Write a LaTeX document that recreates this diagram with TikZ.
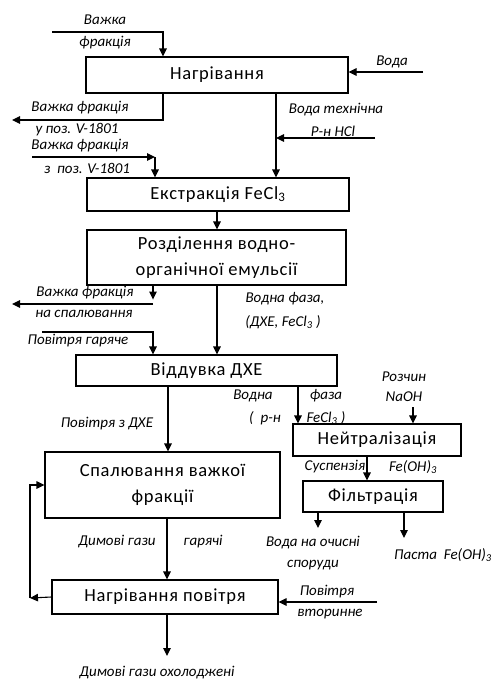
\documentclass[tikz,border=0pt]{standalone}
\usepackage{fontspec}
\setmainfont{Carlito}
\newfontfamily\blokfont[LetterSpace=4]{Carlito}
\usetikzlibrary{arrows.meta, positioning, calc}

\begin{document}
\begin{tikzpicture}[x=1pt, y=-1pt, >={Stealth[length=8pt,width=7.5pt,inset=0pt]}, line width=1.1pt,
    blok/.style={draw, inner sep=0pt, align=center, font=\blokfont\fontsize{18.5}{26}\selectfont},
    lab/.style={font=\itshape\fontsize{15}{16}\selectfont, inner sep=0pt}]
  \useasboundingbox (0,0) rectangle (500,680);

  \node[blok, minimum width=262pt, minimum height=36pt] (heat) at (217,75) {Нагрівання};
  \node[blok, minimum width=262pt, minimum height=33pt] (ext) at (218,194.5) {Екстракція FeCl\textsubscript{3}};
  \node[blok, minimum width=259pt, minimum height=55pt] (sep) at (216.5,257.5) {Розділення водно-\\органічної емульсії};
  \node[blok, minimum width=261pt, minimum height=31pt] (strip) at (206.5,370.5) {Віддувка ДХЕ};
  \node[blok, minimum width=235pt, minimum height=66pt] (burn) at (162.5,485) {Спалювання важкої\\фракції};
  \node[blok, minimum width=168pt, minimum height=32pt] (neut) at (377,440) {Нейтралізація};
  \node[blok, minimum width=140pt, minimum height=31pt] (filt) at (373,496.5) {Фільтрація};
  \node[blok, minimum width=226pt, minimum height=34pt] (airh) at (165,597) {Нагрівання повітря};

  \coordinate (vhin) at (52,32);
  \coordinate (voda) at (423,72);
  \coordinate (vhout) at (12,120);
  \coordinate (vh2) at (32,157);
  \coordinate (vh2k) at (155,157);
  \coordinate (hcl) at (375,138);
  \coordinate (vfsp) at (153,304);
  \coordinate (vfspk) at (12,304);
  \coordinate (pgar) at (42,332);
  \coordinate (naoh) at (413,407);
  \coordinate (vocs) at (318,528);
  \coordinate (pasta) at (404,538);
  \coordinate (petl) at (30,598);
  \coordinate (pvtor) at (377,602);
  \coordinate (dgout) at (167,656);

  \draw[->] (vhin) -| (heat.north -| 163,0);
  \draw[->] (voda) -- (voda -| heat.east);
  \draw[->] (heat.south -| 163,0) |- (vhout);
  \draw[->] (vh2) -- (vh2k);
  \draw[->] (vh2k) -- (vh2k |- ext.north);
  \draw[->] (heat.south -| 276,0) -- (ext.north -| 276,0);
  \draw[->] (hcl) -- (hcl -| 276,0);
  \draw[->] (ext.south -| 217,0) -- (sep.north -| 217,0);
  \draw[->] (sep.south -| 217,0) -- (strip.north -| 217,0);
  \draw[->] (sep.south -| vfsp) -- ++(0,14);
  \draw[->] (vfsp) -- (vfspk);
  \draw[->] (pgar) -| (strip.north -| vfsp);
  \draw[->] (strip.south -| 168,0) -- (burn.north -| 168,0);
  \draw[->] (strip.south -| 298,0) -- (neut.north -| 298,0);
  \draw[->] (naoh) -- (naoh |- neut.north);
  \draw[->] (neut.south -| 367,0) -- (filt.north -| 367,0);
  \draw[->] (filt.south -| vocs) -- (vocs);
  \draw[->] (filt.south -| pasta) -- (pasta);
  \draw[->] (burn.south -| dgout) -- (airh.north -| dgout);
  \draw[->] (airh.south -| dgout) -- (dgout);
  \draw[->] (airh.west) -- (petl);
  \draw[->] (petl) |- (burn.west);
  \draw[->] (pvtor) -- (pvtor -| airh.east);

  \node[lab] (l1a) at (105,20) {Важка};
  \node[lab] (l1b) at (105,43) {фракція};
  \node[lab] (l2) at (392,62) {Вода};
  \node[lab] (l3a) at (80,108) {Важка фракція};
  \node[lab] (l3b) at (77,130) {у поз. V-1801};
  \node[lab] (l4a) at (80,146) {Важка фракція};
  \node[lab] (l4b) at (87,168) {з\ \ поз. V-1801};
  \node[lab] (l5a) at (336,110) {Вода технічна};
  \node[lab] (l5b) at (333,131) {Р-н HCl};
  \node[lab] (l6a) at (285,299) {Водна фаза,};
  \node[lab] (l6b) at (283,322) {(ДХЕ, FeCl\textsubscript{3} )};
  \node[lab] (l7a) at (85,293) {Важка фракція};
  \node[lab] (l7b) at (84,314) {на спалювання};
  \node[lab] (l8) at (78,341) {Повітря гаряче};
  \node[lab] (l9) at (107,424) {Повітря з ДХЕ};
  \node[lab] (l10a) at (253,396) {Водна};
  \node[lab] (l10b) at (326,396) {фаза};
  \node[lab] (l10c) at (265,418) {(\ \ р-н};
  \node[lab] (l10d) at (326,418) {FeCl\textsubscript{3} )};
  \node[lab] (l11a) at (404,377) {Розчин};
  \node[lab] (l11b) at (404,397) {NaOH};
  \node[lab] (l12a) at (335,467) {Суспензія};
  \node[lab] (l12b) at (413,467) {Fe(OH)\textsubscript{3}};
  \node[lab] (l13a) at (313,543) {Вода на очисні};
  \node[lab] (l13b) at (313,565) {споруди};
  \node[lab] (l14) at (443,555) {Паста\ \ Fe(OH)\textsubscript{3}};
  \node[lab] (l15a) at (117,542) {Димові гази};
  \node[lab] (l15b) at (203,542) {гарячі};
  \node[lab] (l16a) at (327,592) {Повітря};
  \node[lab] (l16b) at (330,614) {вторинне};
  \node[lab] (l17) at (157,673) {Димові гази охолоджені};
\end{tikzpicture}
\end{document}
